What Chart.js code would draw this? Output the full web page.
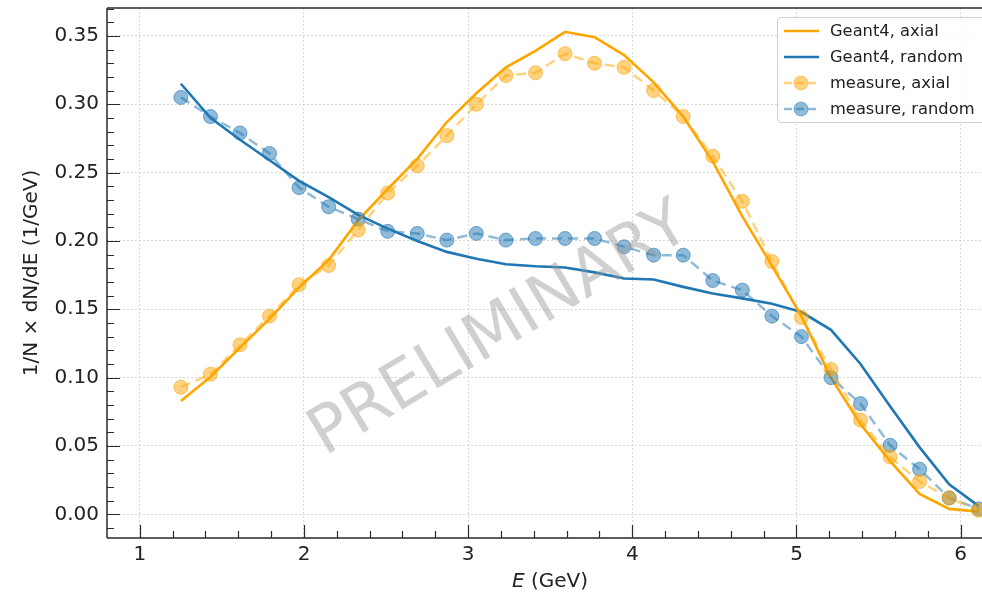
<!DOCTYPE html>
<html>
<head>
<meta charset="utf-8">
<script src="https://cdn.jsdelivr.net/npm/chart.js@4.4.0/dist/chart.umd.min.js"></script>
<style>
  html, body { margin: 0; padding: 0; background: #fff; overflow: hidden; }
  #wrap { position: relative; width: 982px; height: 594px; overflow: hidden; font-family: "DejaVu Sans", sans-serif; }
  #c { position: absolute; left: 0; top: 0; }
  #legend { position: absolute; left: 777px; top: 17px; width: 240px; height: 106px;
            border: 1px solid #d0d0d0; border-radius: 4px; background: rgba(255,255,255,0.85);
            box-sizing: border-box; }
  .row { position: absolute; left: 0; height: 26px; width: 100%; }
  .row svg { position: absolute; left: 5px; top: 0; }
  .row span { position: absolute; left: 52px; top: 2px; font-size: 16.3px; color: #222; white-space: nowrap; line-height: 22px; }
  #xtitle { position: absolute; left: 550px; top: 568px; transform: translateX(-50%); font-size: 20px; color: #222; white-space: nowrap; line-height: 24px; }
</style>
</head>
<body>
<div id="wrap">
  <canvas id="c" width="982" height="594"></canvas>
  <div id="legend"></div>
  <div id="xtitle"><i>E</i> (GeV)</div>
</div>
<script>
// ---- data ----
const energies = [1.25, 1.43, 1.61, 1.79, 1.97, 2.15, 2.33, 2.51, 2.69, 2.87, 3.05, 3.23, 3.41, 3.59,
                  3.77, 3.95, 4.13, 4.31, 4.49, 4.67, 4.85, 5.03, 5.21, 5.39, 5.57, 5.75, 5.93, 6.11];
const geantAxial  = [0.083, 0.1005, 0.122, 0.143, 0.166, 0.186, 0.215, 0.238, 0.260, 0.287, 0.308, 0.327, 0.339, 0.353,
                     0.349, 0.336, 0.316, 0.291, 0.258, 0.218, 0.182, 0.145, 0.100, 0.066, 0.039, 0.015, 0.004, 0.002];
const geantRandom = [0.315, 0.290, 0.274, 0.259, 0.244, 0.232, 0.219, 0.209, 0.200, 0.192, 0.187, 0.183, 0.1815, 0.1806,
                     0.177, 0.1725, 0.1718, 0.1664, 0.1615, 0.158, 0.154, 0.148, 0.135, 0.110, 0.079, 0.049, 0.022, 0.006];
const measAxial   = [0.093, 0.1025, 0.124, 0.145, 0.168, 0.182, 0.208, 0.235, 0.255, 0.277, 0.300, 0.321, 0.323, 0.337,
                     0.330, 0.327, 0.310, 0.291, 0.262, 0.229, 0.185, 0.144, 0.106, 0.069, 0.042, 0.024, 0.012, 0.003];
const measRandom  = [0.305, 0.291, 0.279, 0.264, 0.239, 0.225, 0.216, 0.207, 0.2055, 0.2006, 0.2055, 0.2006, 0.2018, 0.2018,
                     0.2018, 0.1957, 0.1896, 0.1896, 0.171, 0.164, 0.145, 0.130, 0.100, 0.081, 0.0505, 0.033, 0.012, 0.004];
const seriesNames = ["Geant4, axial", "Geant4, random", "measure, axial", "measure, random"];
const xTickVals = [1, 2, 3, 4, 5, 6];
const yTickVals = [0.00, 0.05, 0.10, 0.15, 0.20, 0.25, 0.30, 0.35];
const xRange = [0.80, 6.13];
const yRange = [-0.0173, 0.3704];
const watermark = "PRELIMINARY";

const ORANGE = "rgb(255,165,0)";
const BLUE = "rgb(31,119,180)";
const ORANGE_A = "rgba(255,165,0,0.5)";
const BLUE_A = "rgba(31,119,180,0.5)";

const pts = (ys) => energies.map((x, i) => ({ x: x, y: ys[i] }));

const framePlugin = {
  id: "frame",
  afterDatasetsDraw(chart) {
    const ctx = chart.ctx;
    ctx.save();
    ctx.translate(500, 331);
    ctx.rotate(-31 * Math.PI / 180);
    ctx.font = '65px "DejaVu Sans"';
    ctx.fillStyle = "rgba(150,150,150,0.45)";
    ctx.textAlign = "center";
    ctx.textBaseline = "middle";
    ctx.fillText(watermark, 0, 0);
    ctx.restore();
  },
  afterDraw(chart) {
    const ctx = chart.ctx, ca = chart.chartArea;
    const xs = chart.scales.x, ys = chart.scales.y;
    ctx.save();
    ctx.strokeStyle = "#2a2a2a";
    ctx.lineWidth = 1.5;
    ctx.beginPath();
    ctx.moveTo(ca.left, ca.top); ctx.lineTo(ca.right + 2, ca.top);
    ctx.moveTo(ca.left, ca.top); ctx.lineTo(ca.left, ca.bottom);
    ctx.moveTo(ca.left, ca.bottom); ctx.lineTo(ca.right + 2, ca.bottom);
    ctx.stroke();
    ctx.lineWidth = 1.2;
    ctx.beginPath();
    for (let k = -1; k <= 37; k++) {
      const v = k / 100;
      if (v < yRange[0] || v > yRange[1]) continue;
      const p = Math.round(ys.getPixelForValue(v)) + 0.5;
      const len = (k % 5 === 0) ? 13 : 7;
      ctx.moveTo(ca.left, p); ctx.lineTo(ca.left + len, p);
    }
    for (let k = 5; k <= 31; k++) {
      const v = k / 5;
      if (v <= xRange[0] || v > xRange[1]) continue;
      const p = Math.round(xs.getPixelForValue(v)) + 0.5;
      const len = (k % 5 === 0) ? 13 : 7;
      ctx.moveTo(p, ca.bottom); ctx.lineTo(p, ca.bottom - len);
    }
    ctx.stroke();
    ctx.restore();
  }
};

new Chart(document.getElementById("c"), {
  type: "line",
  data: {
    datasets: [
      { label: seriesNames[2], data: pts(measAxial), order: 1,
        borderColor: ORANGE_A, borderWidth: 2.5, borderDash: [10, 6],
        pointRadius: 7, pointBackgroundColor: ORANGE_A, pointBorderColor: "rgba(245,160,0,0.55)", pointBorderWidth: 1 },
      { label: seriesNames[3], data: pts(measRandom), order: 1,
        borderColor: BLUE_A, borderWidth: 2.5, borderDash: [10, 6],
        pointRadius: 7, pointBackgroundColor: BLUE_A, pointBorderColor: "rgba(31,119,180,0.6)", pointBorderWidth: 1 },
      { label: seriesNames[0], data: pts(geantAxial), order: 2,
        borderColor: ORANGE, borderWidth: 2.6, pointRadius: 0 },
      { label: seriesNames[1], data: pts(geantRandom), order: 2,
        borderColor: BLUE, borderWidth: 2.6, pointRadius: 0 }
    ]
  },
  options: {
    responsive: false,
    animation: false,
    devicePixelRatio: 1,
    layout: { autoPadding: false, padding: { top: 8, right: 0, left: 0, bottom: 0 } },
    elements: { line: { tension: 0, fill: false } },
    plugins: { legend: { display: false }, tooltip: { enabled: false } },
    scales: {
      x: {
        type: "linear", min: xRange[0], max: xRange[1],
        afterBuildTicks: (s) => { s.ticks = xTickVals.map(v => ({ value: v })); },
        afterFit: (s) => { s.height = 56; s.paddingLeft = 0; s.paddingRight = 0; },
        grid: { color: "#cfcfcf", lineWidth: 0.8, drawTicks: false },
        border: { display: false, dash: [2, 2] },
        ticks: { padding: 5, color: "#222", font: { family: "DejaVu Sans", size: 20 },
                 maxRotation: 0, callback: (v) => String(v) },
        title: { display: false }
      },
      y: {
        type: "linear", min: yRange[0], max: yRange[1],
        afterBuildTicks: (s) => { s.ticks = yTickVals.map(v => ({ value: v })); },
        afterFit: (s) => { s.width = 107; s.paddingTop = 0; s.paddingBottom = 0; },
        grid: { color: "#cfcfcf", lineWidth: 0.8, drawTicks: false },
        border: { display: false, dash: [2, 2] },
        ticks: { padding: 8, color: "#222", font: { family: "DejaVu Sans", size: 20 },
                 callback: (v) => Number(v).toFixed(2) },
        title: { display: true, text: "1/N × dN/dE (1/GeV)", color: "#222",
                 font: { family: "DejaVu Sans", size: 20 }, padding: { top: 20, bottom: 0 } }
      }
    }
  },
  plugins: [framePlugin]
});

// ---- legend (HTML) ----
const legendItems = [
  { name: seriesNames[0], color: ORANGE, dashed: false, marker: false },
  { name: seriesNames[1], color: BLUE, dashed: false, marker: false },
  { name: seriesNames[2], color: ORANGE_A, dashed: true, marker: true },
  { name: seriesNames[3], color: BLUE_A, dashed: true, marker: true }
];
const leg = document.getElementById("legend");
legendItems.forEach((it, i) => {
  const row = document.createElement("div");
  row.className = "row";
  row.style.top = (i * 26) + "px";
  let svg = '<svg width="40" height="26" xmlns="http://www.w3.org/2000/svg">';
  svg += '<line x1="1" y1="13" x2="36" y2="13" stroke="' + it.color + '" stroke-width="2.6"' +
         (it.dashed ? ' stroke-dasharray="8,4"' : '') + '/>';
  if (it.marker) svg += '<circle cx="18" cy="13" r="7" fill="' + it.color + '" stroke="' + it.color + '" stroke-width="1"/>';
  svg += '</svg>';
  row.innerHTML = svg + '<span>' + it.name + '</span>';
  leg.appendChild(row);
});
</script>
</body>
</html>
